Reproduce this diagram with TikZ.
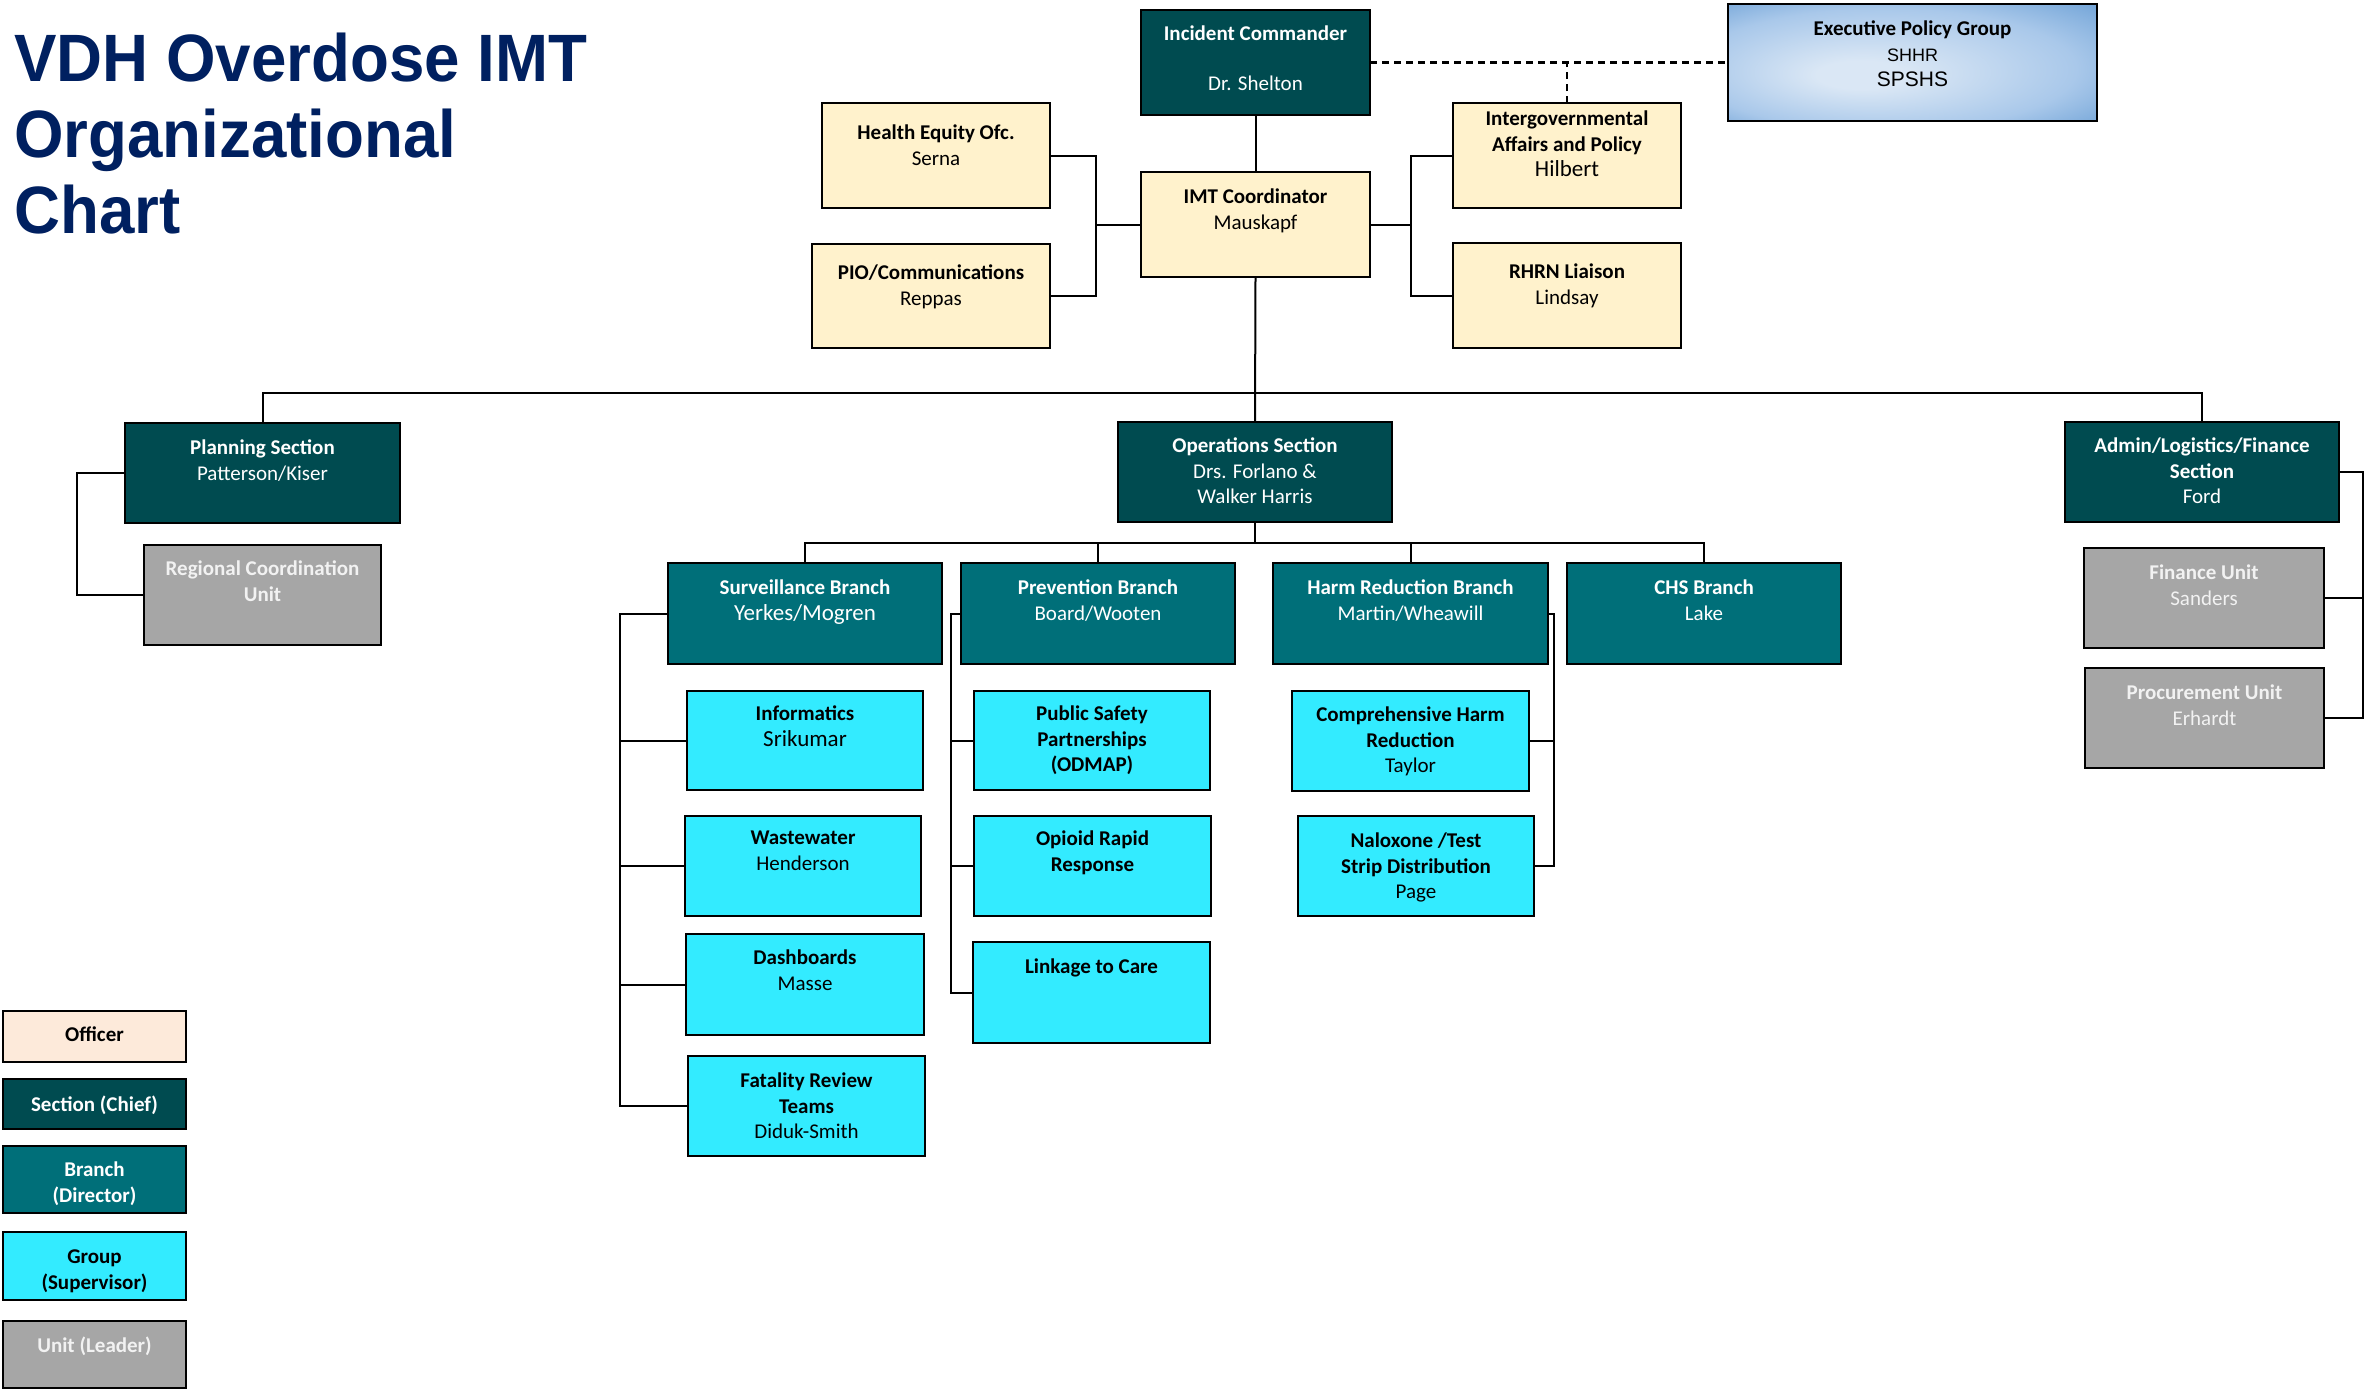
\documentclass[tikz,border=0pt]{standalone}
\usepackage{fontspec}
\setmainfont{Carlito}
\newfontfamily\arialf{Liberation Sans}
\usetikzlibrary{calc}
\definecolor{titleblue}{RGB}{0,32,96}
\definecolor{offfill}{HTML}{FFF2CC}
\definecolor{legofffill}{HTML}{FDEADA}
\definecolor{secfill}{HTML}{004B50}
\definecolor{brfill}{HTML}{006F79}
\definecolor{grpfill}{HTML}{33EBFF}
\definecolor{unitfill}{HTML}{A6A6A6}
\definecolor{unittext}{HTML}{F2F2F2}
\definecolor{epglight}{HTML}{DAE7F5}
\definecolor{epgmid}{HTML}{A9C8EA}
\definecolor{epgblue}{HTML}{6A9FD5}
\pgfdeclareradialshading{epgshade}{\pgfpoint{-8bp}{-6bp}}{color(0bp)=(epglight); color(6bp)=(epglight); color(26bp)=(epgmid); color(40bp)=(epgblue); color(50bp)=(epgblue)}
\newcommand\nmL[1]{{\fontsize{23}{26}\selectfont #1}}
\tikzset{
  bx/.style={draw=black, line width=2.5pt, inner sep=0pt, outer sep=0pt},
  offbox/.style={bx, fill=offfill},
  offboxtxt/.style={text=black},
  legoffbox/.style={bx, fill=legofffill},
  legoffboxtxt/.style={text=black},
  secbox/.style={bx, fill=secfill},
  secboxtxt/.style={text=white},
  brbox/.style={bx, fill=brfill},
  brboxtxt/.style={text=white},
  grpbox/.style={bx, fill=grpfill},
  grpboxtxt/.style={text=black},
  unitbox/.style={bx, fill=unitfill},
  unitboxtxt/.style={text=unittext},
  epgbox/.style={bx, shading=epgshade},
  epgboxtxt/.style={text=black},
  txt/.style={inner sep=0pt, align=center, font=\fontsize{21}{25.5}\selectfont},
  ln/.style={draw=black, line width=2pt},
  dsh/.style={draw=black, line width=2.5pt, dash pattern=on 7pt off 5pt}
}
\newcommand\obox[8]{%
  \node[#1, minimum width={#5-#3}, minimum height={#6-#4}] (#2) at ({(#3+#5)/2},{(#4+#6)/2}) {};
  \node[txt, #1txt, anchor=north] (#2t) at ({(#3+#5)/2},{#7-7}) {#8};}
\begin{document}
\begin{tikzpicture}[x=1pt,y=-1pt]
\useasboundingbox (0,0) rectangle (2369,1390);
\fill[white] (0,0) rectangle (2369,1390);
% title
\node[anchor=north west, inner sep=0pt, align=left, text=titleblue,
      font=\arialf\bfseries\fontsize{67}{76}\selectfont, xscale=0.95, transform shape]
      (title) at (14,33) {VDH Overdose IMT\\Organizational\\Chart};
% top
\obox{secbox}{ic}{1141}{10}{1370}{115}{33}{\textbf{Incident Commander}\\[24.5pt]Dr. Shelton}
\obox{epgbox}{epg}{1728}{4}{2097}{121}{28}{\textbf{Executive Policy Group}\\{\arialf\fontsize{18}{20}\selectfont SHHR}\\{\arialf\fontsize{21}{25}\selectfont SPSHS}}
\obox{offbox}{he}{822}{103}{1050}{208}{132}{\textbf{Health Equity Ofc.}\\Serna}
\obox{offbox}{pio}{812}{244}{1050}{348}{272}{\textbf{PIO/Communications}\\Reppas}
\obox{offbox}{imt}{1141}{172}{1370}{277}{196}{\textbf{IMT Coordinator}\\Mauskapf}
\obox{offbox}{iga}{1453}{103}{1681}{208}{118}{\textbf{Intergovernmental}\\\textbf{Affairs and Policy}\\\nmL{Hilbert}}
\obox{offbox}{rhrn}{1453}{243}{1681}{348}{271}{\textbf{RHRN Liaison}\\Lindsay}
% sections
\obox{secbox}{plan}{125}{423}{400}{523}{447}{\textbf{Planning Section}\\Patterson/Kiser}
\obox{secbox}{ops}{1118}{422}{1392}{522}{445}{\textbf{Operations Section}\\Drs. Forlano \&\\Walker Harris}
\obox{secbox}{admin}{2065}{422}{2339}{522}{445}{\textbf{Admin/Logistics/Finance}\\\textbf{Section}\\Ford}
% units
\obox{unitbox}{rcu}{144}{545}{381}{645}{568}{\textbf{Regional Coordination}\\\textbf{Unit}}
\obox{unitbox}{fin}{2084}{548}{2324}{648}{572}{\textbf{Finance Unit}\\Sanders}
\obox{unitbox}{proc}{2085}{668}{2324}{768}{692}{\textbf{Procurement Unit}\\Erhardt}
% branches
\obox{brbox}{surv}{668}{563}{942}{664}{587}{\textbf{Surveillance Branch}\\\nmL{Yerkes/Mogren}}
\obox{brbox}{prev}{961}{563}{1235}{664}{587}{\textbf{Prevention Branch}\\Board/Wooten}
\obox{brbox}{hr}{1273}{563}{1548}{664}{587}{\textbf{Harm Reduction Branch}\\Martin/Wheawill}
\obox{brbox}{chs}{1567}{563}{1841}{664}{587}{\textbf{CHS Branch}\\Lake}
% groups
\obox{grpbox}{info}{687}{691}{923}{790}{713}{\textbf{Informatics}\\\nmL{Srikumar}}
\obox{grpbox}{waste}{685}{816}{921}{916}{838}{\textbf{Wastewater}\\Henderson}
\obox{grpbox}{dash}{686}{934}{924}{1035}{957}{\textbf{Dashboards}\\Masse}
\obox{grpbox}{fatal}{688}{1056}{925}{1156}{1080}{\textbf{Fatality Review}\\\textbf{Teams}\\Diduk-Smith}
\obox{grpbox}{psp}{974}{691}{1210}{790}{713}{\textbf{Public Safety}\\\textbf{Partnerships}\\\textbf{(ODMAP)}}
\obox{grpbox}{orr}{974}{816}{1211}{916}{838}{\textbf{Opioid Rapid}\\\textbf{Response}}
\obox{grpbox}{link}{973}{942}{1210}{1043}{966}{\textbf{Linkage to Care}}
\obox{grpbox}{chr}{1292}{691}{1529}{791}{714}{\textbf{Comprehensive Harm}\\\textbf{Reduction}\\Taylor}
\obox{grpbox}{nal}{1298}{816}{1534}{916}{840}{\textbf{Naloxone /Test}\\\textbf{Strip Distribution}\\Page}
% legend
\obox{legoffbox}{lgoff}{3}{1011}{186}{1062}{1034}{\textbf{Officer}}
\obox{secbox}{lgsec}{3}{1079}{186}{1129}{1103}{\textbf{Section (Chief)}}
\obox{brbox}{lgbr}{3}{1146}{186}{1213}{1169}{\textbf{Branch}\\\textbf{(Director)}}
\obox{grpbox}{lggrp}{3}{1232}{186}{1300}{1257}{\textbf{Group}\\\textbf{(Supervisor)}}
\obox{unitbox}{lgunit}{3}{1321}{186}{1388}{1344}{\textbf{Unit (Leader)}}
% connectors
\draw[ln] (ic.south) -- (imt.north);
\draw[ln] (imt.south) -- (ops.north);
\draw[ln] (plan.north) -- ++(0,-30) -| (admin.north);
\draw[ln] (he.east) -- ++(46,0) coordinate (lb) |- (pio.east);
\draw[ln] (imt.west) -- (imt.west -| lb);
\draw[ln] (iga.west) -- ++(-42,0) coordinate (rb) |- (rhrn.west);
\draw[ln] (imt.east) -- (imt.east -| rb);
\draw[dsh] (ic.east) -- (epg.west);
\draw[dsh] (iga.north) -- (iga.north |- ic.east);
\draw[ln] (plan.west) -- ++(-48,0) |- (rcu.west);
\draw[ln] (ops.south) -- ++(0,21);
\draw[ln] (surv.north) -- ++(0,-20) -| (chs.north);
\draw[ln] (prev.north) -- ++(0,-20);
\draw[ln] (hr.north) -- ++(0,-20);
\draw[ln] (surv.west) -- ++(-48,0) coordinate (sb) |- (fatal.west);
\draw[ln] (info.west) -- (info.west -| sb);
\draw[ln] (waste.west) -- (waste.west -| sb);
\draw[ln] (dash.west) -- (dash.west -| sb);
\draw[ln] (prev.west) -- ++(-10,0) coordinate (pb) |- (link.west);
\draw[ln] (psp.west) -- (psp.west -| pb);
\draw[ln] (orr.west) -- (orr.west -| pb);
\draw[ln] (hr.east) -- ++(6,0) coordinate (hb) |- (nal.east);
\draw[ln] (chr.east) -- (chr.east -| hb);
\draw[ln] (admin.east) -- ++(24,0) coordinate (ab) |- (proc.east);
\draw[ln] (fin.east) -- (fin.east -| ab);
\end{tikzpicture}
\end{document}
